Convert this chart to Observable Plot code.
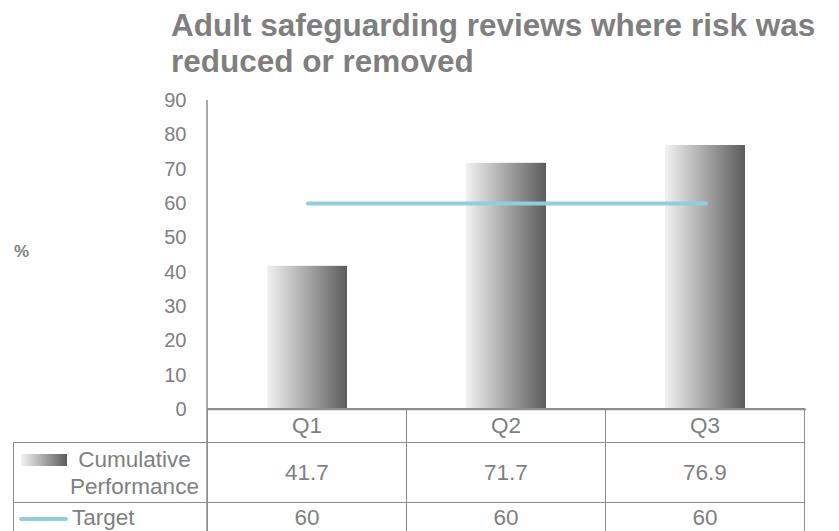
<!DOCTYPE html>
<html><head><meta charset="utf-8">
<script src="https://cdn.jsdelivr.net/npm/d3@7"></script>
<script src="https://cdn.jsdelivr.net/npm/@observablehq/plot@0.6"></script>
<style>
html,body{margin:0;padding:0;background:#fff;}
body{font-family:"Liberation Sans",Arial,sans-serif;color:#7f7f7f;}
#wrap{position:relative;width:839px;height:531px;overflow:hidden;}
#title{position:absolute;left:171px;top:7px;width:668px;font-weight:bold;font-size:31.5px;line-height:36px;color:#7f7f7f;margin:0;}
#ylab{position:absolute;left:14px;top:242px;font-weight:bold;font-size:17px;line-height:20px;color:#7f7f7f;}
#chart{position:absolute;left:0;top:0;}
table{position:absolute;left:13px;top:408px;border-collapse:collapse;table-layout:fixed;font-size:22.5px;color:#7f7f7f;}
td{border:1.5px solid #8c8c8c;text-align:center;padding:0;position:relative;}
td.blank{border:none;border-bottom:1.5px solid #8c8c8c;}
.key{position:absolute;}
</style>
</head><body>
<div id="wrap">
  <div id="title">Adult safeguarding reviews where risk was reduced or removed</div>
  <div id="ylab">%</div>
  <div id="chart"></div>
</div>
<script>
const quarters = ["Q1", "Q2", "Q3"];
const performance = [41.7, 71.7, 76.9];
const target = [60, 60, 60];
const yTicks = [0, 10, 20, 30, 40, 50, 60, 70, 80, 90];
const seriesNames = ["Cumulative Performance", "Target"];

const rows = quarters.map((q, i) => ({q, perf: performance[i], target: target[i]}));

const W = 839, H = 531, mL = 207, mR = 33, mT = 100, mB = 122;
const grey = "#7f7f7f";

const chart = Plot.plot({
  width: W, height: H,
  marginLeft: mL, marginRight: mR, marginTop: mT, marginBottom: mB,
  style: {fontFamily: "'Liberation Sans', Arial, sans-serif", background: "transparent", color: grey},
  x: {domain: quarters, padding: 0, axis: null},
  y: {domain: [0, 90], ticks: yTicks},
  marks: [
    Plot.axisY({ticks: yTicks, tickSize: 0, tickPadding: 21, fontSize: 20, fill: grey, label: null}),
    Plot.barY(rows, {x: "q", y: "perf", fill: "url(#barGrad)", insetLeft: 59, insetRight: 60}),
    Plot.ruleY([0], {stroke: "#8c8c8c", strokeWidth: 1.5}),
    Plot.lineY(rows, {x: "q", y: "target", stroke: "#92cddc", strokeWidth: 4})
  ]
});

// gradient definition for the bars
const svg = d3.select(chart);
const defs = svg.insert("defs", ":first-child");
const g = defs.append("linearGradient").attr("id", "barGrad").attr("x1", 0).attr("x2", 1).attr("y1", 0).attr("y2", 0);
g.append("stop").attr("offset", "0%").attr("stop-color", "#f2f2f2");
g.append("stop").attr("offset", "100%").attr("stop-color", "#5c5c5c");
// vertical axis line running into the data table
const yScale = chart.scale("y");
svg.append("line").attr("x1", mL).attr("x2", mL)
  .attr("y1", yScale.apply(90)).attr("y2", H)
  .attr("stroke", "#8c8c8c").attr("stroke-width", 1.5);

document.getElementById("chart").appendChild(chart);

// data table below the chart, columns aligned with the x band scale
const xs = chart.scale("x");
const colW = xs.step;
const tableLeft = 13;
const firstW = mL - tableLeft;
const table = document.createElement("table");
table.style.width = (firstW + colW * quarters.length) + "px";
const cg = document.createElement("colgroup");
[firstW, ...quarters.map(() => colW)].forEach(w => {
  const c = document.createElement("col"); c.style.width = w + "px"; cg.appendChild(c);
});
table.appendChild(cg);

// header row
let tr = table.insertRow();
tr.style.height = "34px";
let td = tr.insertCell(); td.className = "blank";
quarters.forEach(q => { const c = tr.insertCell(); c.textContent = q; });

// performance row
tr = table.insertRow();
tr.style.height = "60px";
td = tr.insertCell();
td.innerHTML = `<div class="key" style="left:7px;top:11px;width:46px;height:12px;background:linear-gradient(to right,#f2f2f2,#5c5c5c)"></div>
<div style="position:absolute;left:48px;right:0;top:3px;line-height:27px;text-align:center;white-space:nowrap">${seriesNames[0].replace(" ", "<br>")}</div>`;
performance.forEach(v => { const c = tr.insertCell(); c.textContent = v.toFixed(1); });

// target row
tr = table.insertRow();
tr.style.height = "40px";
td = tr.insertCell();
td.style.verticalAlign = "top";
td.innerHTML = `<div class="key" style="left:5px;top:14px;width:49px;height:4px;border-radius:2px;background:#92cddc"></div>
<div style="position:absolute;left:58px;top:1px;line-height:27px;text-align:left">${seriesNames[1]}</div>`;
target.forEach(v => { const c = tr.insertCell(); c.textContent = v; c.style.verticalAlign = "top"; c.style.paddingTop = "1px"; c.style.lineHeight = "27px"; });

document.getElementById("wrap").appendChild(table);
</script>
</body></html>
